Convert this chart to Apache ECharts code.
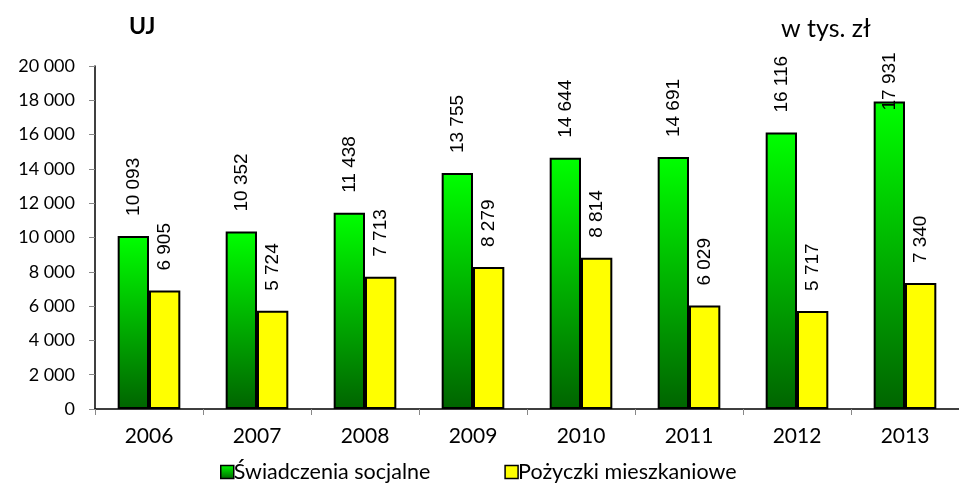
<!DOCTYPE html>
<html><head><meta charset="utf-8">
<script src="https://cdn.jsdelivr.net/npm/echarts@6/dist/echarts.min.js"></script>
<style>html,body{margin:0;padding:0;background:#fff}#c{width:959px;height:495px}</style>
</head><body><div id="c"></div>
<script>
const categories = ['2006','2007','2008','2009','2010','2011','2012','2013'];
const swiadczenia = [10093,10352,11438,13755,14644,14691,16116,17931];
const pozyczki = [6905,5724,7713,8279,8814,6029,5717,7340];
const seriesNames = ['Świadczenia socjalne','Pożyczki mieszkaniowe'];
const yTicks = [0,2000,4000,6000,8000,10000,12000,14000,16000,18000,20000];

const fmt = v => String(v).replace(/\B(?=(\d{3})+(?!\d))/g, ' ');
const chart = echarts.init(document.getElementById('c'));
const labelBase = {
  show: true, position: 'top', rotate: 90, distance: 20,
  align: 'left', verticalAlign: 'middle',
  fontFamily: 'Liberation Sans, Arial, sans-serif', fontSize: 19, color: '#000',
  formatter: p => fmt(p.value)
};
const greenGrad = new echarts.graphic.LinearGradient(0,0,0,1,[{offset:0,color:'#00ff00'},{offset:1,color:'#006400'}]);
chart.setOption({
  animation: false,
  title: [
    {text:'UJ', left: 124, top: 10, textStyle:{fontFamily:'Lato, sans-serif', fontWeight:'bold', fontSize:23, color:'#000'}},
    {text:'w tys. zł', left: 776, top: 11, textStyle:{fontFamily:'Lato, sans-serif', fontWeight:'normal', fontSize:25, color:'#000'}}
  ],
  grid: {left: 95, right: -8, top: 66, bottom: 86},
  legend: {
    bottom: 7, left: 215, itemWidth: 13, itemHeight: 13, itemGap: 74,
    textStyle:{fontFamily:'Lato, sans-serif', fontSize:21.5, color:'#000', padding:[0,0,0,-5]},
    data: [
      {name: seriesNames[0], icon:'rect', itemStyle:{color:greenGrad, borderColor:'#000', borderWidth:1.5}},
      {name: seriesNames[1], icon:'rect', itemStyle:{color:'#ffff00', borderColor:'#000', borderWidth:1.5}}
    ]
  },
  xAxis: {
    type:'category', data: categories,
    axisLine:{lineStyle:{color:'#000', width:1.5}},
    axisTick:{show:true, length:6, lineStyle:{color:'#888'}},
    axisLabel:{fontFamily:'Lato, sans-serif', fontSize:21, color:'#000', margin:17}
  },
  yAxis: {
    type:'value', min: yTicks[0], max: yTicks[yTicks.length-1], interval: 2000,
    splitLine:{show:false},
    axisLine:{show:true, lineStyle:{color:'#000', width:1.5}},
    axisTick:{show:true, length:6, lineStyle:{color:'#888'}},
    axisLabel:{fontFamily:'Lato, sans-serif', fontSize:18, color:'#000', margin:20, formatter: v => fmt(v)}
  },
  series: [
    {name: seriesNames[0], type:'bar', data: swiadczenia.map((v,i)=> i===7 ? {value:v, label:{position:'insideTop', distance:9}} : v),
     barWidth: '29%', barGap: '0%',
     itemStyle:{color:greenGrad, borderColor:'#000', borderWidth:2},
     label: labelBase},
    {name: seriesNames[1], type:'bar', data: pozyczki, barWidth:'29%', barGap:'0%',
     itemStyle:{color:'#ffff00', borderColor:'#000', borderWidth:2},
     label: labelBase}
  ]
});
</script></body></html>
